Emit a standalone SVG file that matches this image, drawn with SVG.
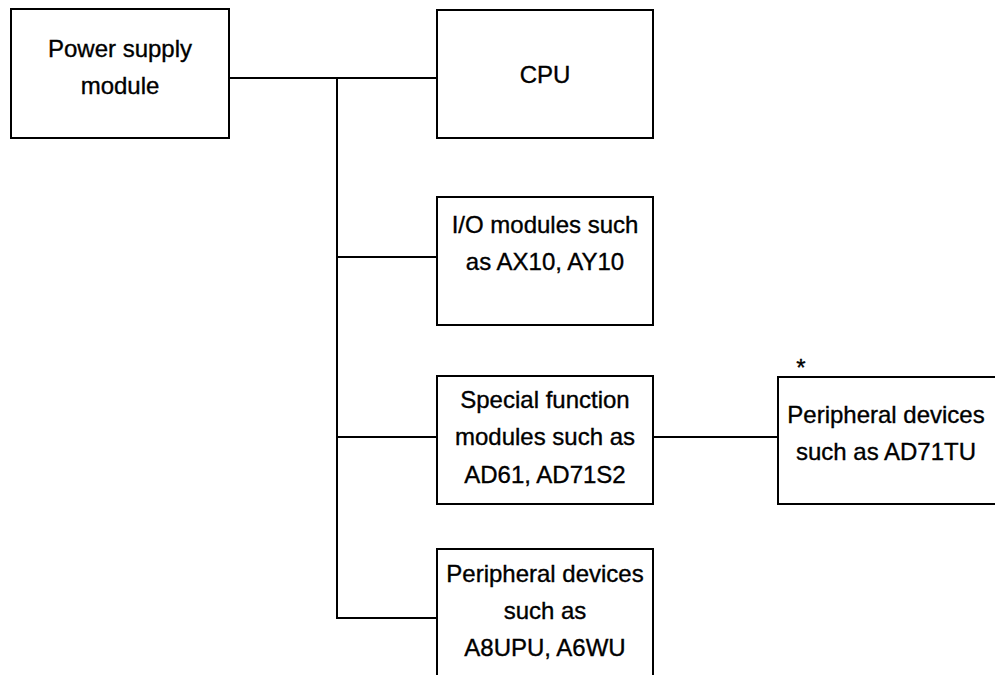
<svg xmlns="http://www.w3.org/2000/svg" width="995" height="675" viewBox="0 0 995 675">
<style>
.box{fill:#fff;stroke:#000;stroke-width:2}
.ln{fill:none;stroke:#000;stroke-width:2}
text{font-family:"Liberation Sans",Arial,sans-serif;font-size:24px;fill:#000;stroke:#000;stroke-width:0.35;text-anchor:middle}
</style>
<rect width="995" height="675" fill="#fff"/>
<g id="connectors">
<polyline class="ln" points="229,78 437,78"/>
<polyline class="ln" points="337,78 337,618 437,618"/>
<line class="ln" x1="337" y1="257" x2="437" y2="257"/>
<line class="ln" x1="337" y1="437" x2="437" y2="437"/>
<line class="ln" x1="653" y1="437" x2="778" y2="437"/>
</g>
<g id="power">
<rect class="box" x="11" y="9" width="218" height="129"/>
<text x="120" y="57">Power supply</text>
<text x="120" y="94">module</text>
</g>
<g id="cpu">
<rect class="box" x="437" y="10" width="216" height="128"/>
<text x="545" y="83">CPU</text>
</g>
<g id="io">
<rect class="box" x="437" y="197" width="216" height="128"/>
<text x="545" y="233">I/O modules such</text>
<text x="545" y="270">as AX10, AY10</text>
</g>
<g id="special">
<rect class="box" x="437" y="376" width="216" height="128"/>
<text x="545" y="408">Special function</text>
<text x="545" y="445">modules such as</text>
<text x="545" y="483">AD61, AD71S2</text>
</g>
<g id="peripheral1">
<rect class="box" x="437" y="549" width="216" height="140"/>
<text x="545" y="582">Peripheral devices</text>
<text x="545" y="619">such as</text>
<text x="545" y="656">A8UPU, A6WU</text>
</g>
<g id="peripheral2">
<rect class="box" x="778" y="377" width="230" height="127"/>
<text x="886" y="423">Peripheral devices</text>
<text x="886" y="460">such as AD71TU</text>
<text x="801" y="376">*</text>
</g>
</svg>
